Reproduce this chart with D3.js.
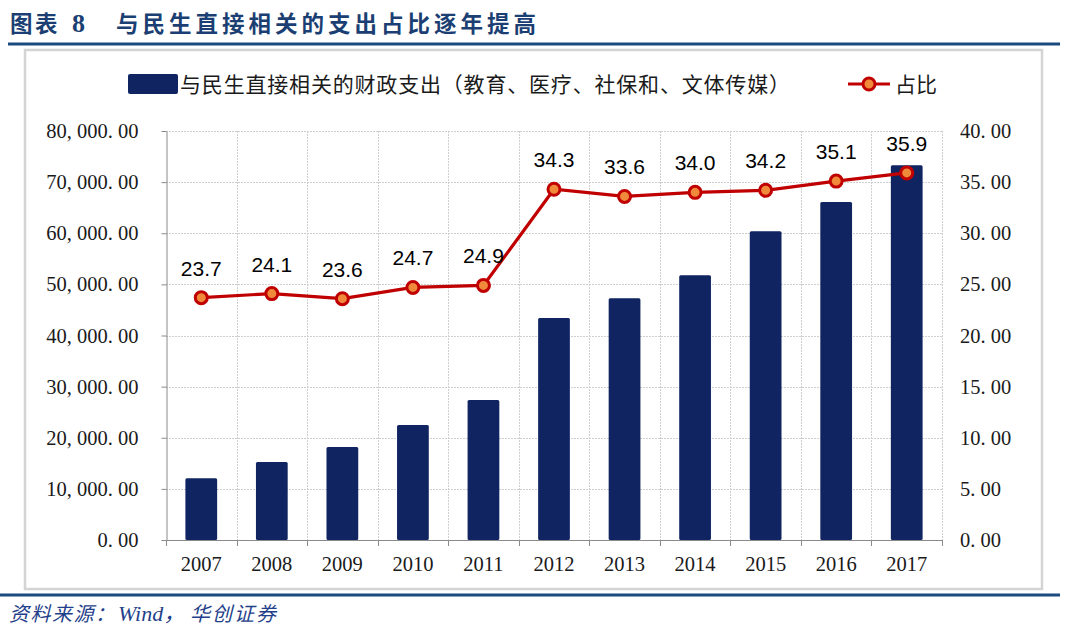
<!DOCTYPE html>
<html><head><meta charset="utf-8">
<script src="https://cdn.jsdelivr.net/npm/d3@7/dist/d3.min.js"></script>
<style>body{margin:0;background:#fff}svg{display:block}</style>
</head><body>
<svg id="c" width="1068" height="632"></svg>
<script>
const years = ["2007","2008","2009","2010","2011","2012","2013","2014","2015","2016","2017"];
const spending = [12100,15250,18200,22500,27400,43400,47300,51800,60400,66100,73300];
const ratio = [23.7,24.1,23.6,24.7,24.9,34.3,33.6,34.0,34.2,35.1,35.9];
const leftTicks = [0,10000,20000,30000,40000,50000,60000,70000,80000];
const rightTicks = [0,5,10,15,20,25,30,35,40];
const titleLabel = "图表";
const titleNum = "8";
const titleText = "与民生直接相关的支出占比逐年提高";
const barLegend = "与民生直接相关的财政支出（教育、医疗、社保和、文体传媒）";
const lineLegend = "占比";
const sourceParts = ["资料来源：", "Wind，", "华创证券"];

const svg = d3.select("#c");
const L = 166, R = 942, T = 131, B = 540;

// frame and rules
svg.append("rect").attr("x",25).attr("y",50).attr("width",1017).attr("height",539)
  .attr("fill","none").attr("stroke","#d4d4d4").attr("stroke-width",2.5);
svg.append("line").attr("x1",8).attr("x2",1060).attr("y1",44).attr("y2",44)
  .attr("stroke","#1c4a7e").attr("stroke-width",3);
svg.append("line").attr("x1",0).attr("x2",1060).attr("y1",595).attr("y2",595)
  .attr("stroke","#1c4a7e").attr("stroke-width",3);

// title
const tt = svg.append("text").attr("y",32).attr("fill","#1c3f73")
  .attr("font-family","'Noto Sans CJK SC'").attr("font-weight","bold").attr("font-size",22.5);
tt.append("tspan").attr("x",10).attr("letter-spacing",2.5).text(titleLabel);
tt.append("tspan").attr("x",72).attr("font-family","'Liberation Serif'").attr("font-size",26).text(titleNum);
tt.append("tspan").attr("x",116).attr("letter-spacing",4).text(titleText);

// source
const st = svg.append("text").attr("y",621).attr("fill","#1f3f8a")
  .attr("font-family","'Liberation Serif','Noto Sans CJK SC'").attr("font-style","italic")
  .attr("font-size",20);
st.append("tspan").attr("x",9).attr("letter-spacing",1.5).text(sourceParts[0]);
st.append("tspan").attr("x",118).attr("font-size",22).text(sourceParts[1]);
st.append("tspan").attr("x",190).attr("letter-spacing",2).text(sourceParts[2]);

const x = d3.scaleBand().domain(years).range([L,R]).paddingInner(0.55).paddingOuter(0.275);
const xb = d3.scaleBand().domain(years).range([L,R]);
const yL = d3.scaleLinear().domain([0,80000]).range([B,T]);
const yR = d3.scaleLinear().domain([0,40]).range([B,T]);

// gridlines
const grid = svg.append("g").attr("stroke","#cfcfcf").attr("stroke-width",1).attr("stroke-dasharray","2,1");
grid.selectAll("line.h").data(leftTicks.slice(1)).join("line")
  .attr("x1",L).attr("x2",R).attr("y1",d=>Math.round(yL(d))+0.5).attr("y2",d=>Math.round(yL(d))+0.5);
grid.selectAll("line.v").data(years.slice(1).map(d=>xb(d)).concat([R])).join("line")
  .attr("x1",d=>Math.round(d)+0.5).attr("x2",d=>Math.round(d)+0.5).attr("y1",T).attr("y2",B);

// bars
svg.append("g").selectAll("rect").data(years).join("rect")
  .attr("x",d=>x(d)).attr("width",x.bandwidth())
  .attr("y",(d,i)=>yL(spending[i])).attr("height",(d,i)=>B-yL(spending[i]))
  .attr("fill","#0f2461").attr("rx",1.5);

const fmtL = d=>d3.format(",.2f")(d).replace(/,/g,", ").replace(".",". ");
const fmtR = d=>d3.format(".2f")(d).replace(".",". ");

// left axis
const gl = svg.append("g").attr("transform",`translate(${L+0.5},0)`)
  .call(d3.axisLeft(yL).tickValues(leftTicks).tickFormat(fmtL).tickSizeInner(5).tickSizeOuter(0).tickPadding(23));
gl.select(".domain").attr("stroke","#8a8a8a");
gl.selectAll(".tick line").attr("stroke","#8a8a8a");
gl.selectAll("text").attr("font-family","'Liberation Serif'").attr("font-size",20.5).attr("fill","#1a1a1a");

// right axis (labels only)
const gr = svg.append("g").attr("transform",`translate(${R},0)`)
  .call(d3.axisRight(yR).tickValues(rightTicks).tickFormat(fmtR).tickSize(0).tickPadding(18));
gr.select(".domain").remove();
gr.selectAll("text").attr("font-family","'Liberation Serif'").attr("font-size",20.5).attr("fill","#1a1a1a");

// bottom axis
const gb = svg.append("g").attr("transform",`translate(0,${B+0.5})`)
  .call(d3.axisBottom(xb).tickSize(0).tickPadding(16));
gb.select(".domain").attr("stroke","#8a8a8a").attr("d",`M${L},0H${R}`);
gb.selectAll("text").attr("font-family","'Liberation Serif'").attr("font-size",20.5).attr("fill","#1a1a1a");
svg.append("g").attr("stroke","#8a8a8a").selectAll("line")
  .data(years.map(d=>xb(d)).concat([R])).join("line")
  .attr("x1",d=>Math.round(d)+0.5).attr("x2",d=>Math.round(d)+0.5).attr("y1",B).attr("y2",B+6);

// ratio line
const cx = d=>xb(d)+xb.bandwidth()/2;
const line = d3.line().x((d,i)=>cx(years[i])).y(d=>yR(d));
svg.append("path").datum(ratio).attr("d",line).attr("fill","none")
  .attr("stroke","#c00000").attr("stroke-width",3.2);
svg.append("g").selectAll("circle").data(ratio).join("circle")
  .attr("cx",(d,i)=>cx(years[i])).attr("cy",d=>yR(d)).attr("r",6)
  .attr("fill","#f08a3a").attr("stroke","#c00000").attr("stroke-width",3);
svg.append("g").selectAll("text").data(ratio).join("text")
  .attr("x",(d,i)=>cx(years[i])).attr("y",d=>yR(d)-22)
  .attr("text-anchor","middle").attr("font-family","'Liberation Sans'").attr("font-size",21)
  .attr("fill","#000").text(d=>d.toFixed(1));

// legend
svg.append("rect").attr("x",128).attr("y",74).attr("width",50).attr("height",20).attr("fill","#0f2461").attr("rx",2);
svg.append("text").attr("x",180).attr("y",92).attr("font-family","'Noto Sans CJK SC'").attr("font-size",21)
  .attr("fill","#1a1a1a").attr("textLength",610).text(barLegend);
svg.append("line").attr("x1",848).attr("x2",890).attr("y1",84).attr("y2",84).attr("stroke","#c00000").attr("stroke-width",3.2);
svg.append("circle").attr("cx",869).attr("cy",84).attr("r",6).attr("fill","#f08a3a").attr("stroke","#c00000").attr("stroke-width",3);
svg.append("text").attr("x",895).attr("y",92).attr("font-family","'Noto Sans CJK SC'").attr("font-size",21)
  .attr("fill","#1a1a1a").text(lineLegend);
</script>
</body></html>
